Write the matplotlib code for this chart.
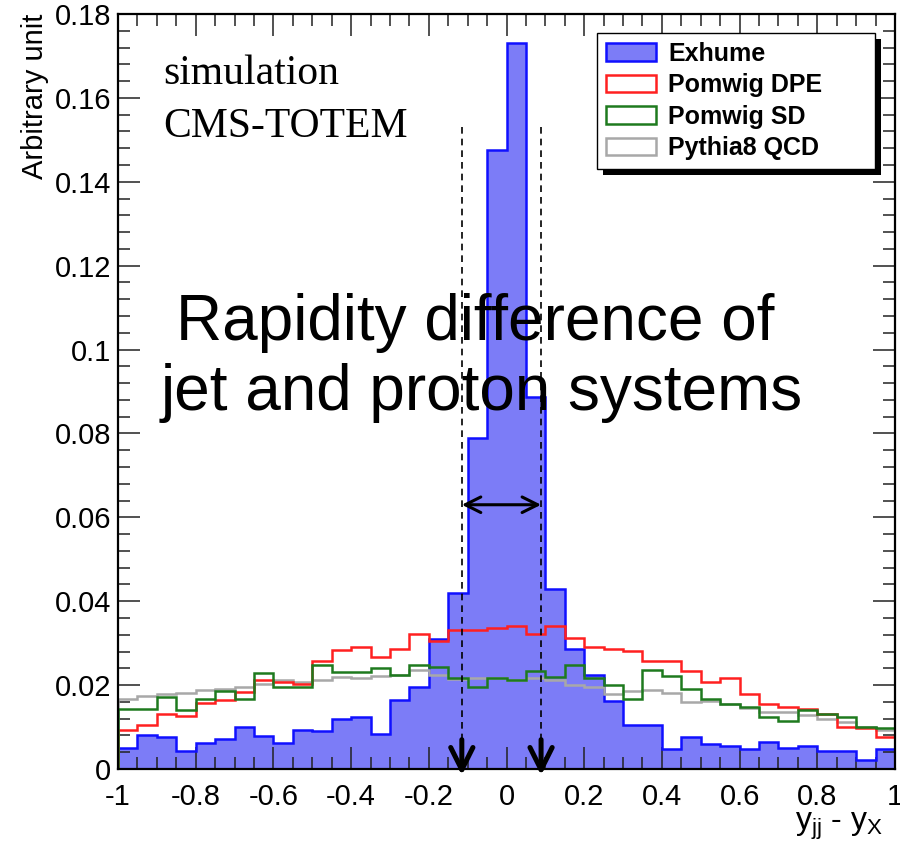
import numpy as np
import matplotlib
matplotlib.use('Agg')
import matplotlib.pyplot as plt
from matplotlib.patches import Patch, Rectangle
from matplotlib.ticker import MultipleLocator, FuncFormatter

# 40 bins of width 0.05 between -1 and 1
bin_edges = np.linspace(-1, 1, 41)

exhume = [0.0050, 0.0081, 0.0077, 0.0042, 0.0062, 0.0072, 0.0100, 0.0078, 0.0063, 0.0094,
          0.0090, 0.0119, 0.0123, 0.0084, 0.0165, 0.0196, 0.0310, 0.0420, 0.0790, 0.1475,
          0.1730, 0.0886, 0.0428, 0.0285, 0.0224, 0.0162, 0.0105, 0.0105, 0.0047, 0.0077,
          0.0060, 0.0055, 0.0048, 0.0064, 0.0051, 0.0054, 0.0043, 0.0043, 0.0021, 0.0047]

pomwig_dpe = [0.0094, 0.0105, 0.0130, 0.0126, 0.0158, 0.0165, 0.0184, 0.0211, 0.0208, 0.0202,
              0.0258, 0.0284, 0.0290, 0.0267, 0.0285, 0.0323, 0.0305, 0.0331, 0.0332, 0.0337,
              0.0342, 0.0323, 0.0340, 0.0313, 0.0290, 0.0287, 0.0282, 0.0257, 0.0257, 0.0233,
              0.0208, 0.0218, 0.0180, 0.0155, 0.0147, 0.0144, 0.0130, 0.0101, 0.0098, 0.0077]

pomwig_sd = [0.0142, 0.0142, 0.0172, 0.0141, 0.0166, 0.0186, 0.0167, 0.0228, 0.0195, 0.0195,
             0.0248, 0.0232, 0.0232, 0.0240, 0.0224, 0.0248, 0.0242, 0.0216, 0.0195, 0.0218,
             0.0213, 0.0233, 0.0220, 0.0248, 0.0218, 0.0201, 0.0168, 0.0237, 0.0222, 0.0191,
             0.0168, 0.0156, 0.0149, 0.0123, 0.0114, 0.0141, 0.0132, 0.0125, 0.0100, 0.0098]

pythia8_qcd = [0.0167, 0.0174, 0.0179, 0.0182, 0.0188, 0.0190, 0.0196, 0.0202, 0.0212, 0.0208,
               0.0213, 0.0220, 0.0216, 0.0222, 0.0225, 0.0235, 0.0225, 0.0215, 0.0216, 0.0217,
               0.0211, 0.0217, 0.0213, 0.0200, 0.0196, 0.0178, 0.0185, 0.0189, 0.0182, 0.0159,
               0.0162, 0.0155, 0.0146, 0.0136, 0.0135, 0.0128, 0.0119, 0.0111, 0.0100, 0.0093]

labels = ['Exhume', 'Pomwig DPE', 'Pomwig SD', 'Pythia8 QCD']

# window marked by the dashed lines
window_lo, window_hi = -0.115, 0.089
window_top = 0.153
arrow_level = 0.063

plt.rcParams['font.family'] = ['Liberation Sans', 'DejaVu Sans']
plt.rcParams['mathtext.default'] = 'regular'

fig = plt.figure(figsize=(9, 8.42), dpi=100)
ax = fig.add_axes([118/900, 1 - 769/842, 777/900, 755/842])

ax.stairs(exhume, bin_edges, fill=True, color='#7c7cf7', zorder=1)
ax.stairs(exhume, bin_edges, color='#1010ff', lw=1.8, zorder=2)
ax.stairs(pythia8_qcd, bin_edges, color='#a8a8a8', lw=1.8, zorder=3)
ax.stairs(pomwig_dpe, bin_edges, color='#ff2020', lw=1.8, zorder=3)
ax.stairs(pomwig_sd, bin_edges, color='#1e7a1e', lw=1.8, zorder=4)

ax.set_xlim(-1, 1)
ax.set_ylim(0, 0.18)

ax.xaxis.set_major_locator(MultipleLocator(0.2))
ax.xaxis.set_minor_locator(MultipleLocator(0.05))
ax.yaxis.set_major_locator(MultipleLocator(0.02))
ax.yaxis.set_minor_locator(MultipleLocator(0.004))
fmt = FuncFormatter(lambda v, p: '%g' % round(v, 3))
ax.xaxis.set_major_formatter(fmt)
ax.yaxis.set_major_formatter(fmt)
ax.tick_params(which='both', direction='in', top=True, right=True, color='#222222', width=1.1)
ax.tick_params(which='major', length=15.5, labelsize=21)
ax.tick_params(axis='x', which='major', pad=10)
ax.tick_params(axis='y', which='major', pad=5)
ax.tick_params(which='minor', length=8.5)
for s in ax.spines.values():
    s.set_linewidth(1.6)
    s.set_zorder(10)

ax.set_ylabel('Arbitrary unit', fontsize=21, loc='top', labelpad=4)
ax.set_xlabel(r'$y_{jj}$ - $y_{X}$', fontsize=23, loc='right', labelpad=0)
ax.xaxis.label.set_x(0.985)

# dashed window lines with arrow heads at the bottom
for xv in (window_lo, window_hi):
    ax.plot([xv, xv], [window_top, 0.004], ls=(0, (4, 3)), color='black', lw=1.2, zorder=6)
    ax.annotate('', xy=(xv, -0.0015), xytext=(xv, 0.007),
                arrowprops=dict(arrowstyle='->', color='black', lw=3.6, mutation_scale=40,
                                shrinkA=0, shrinkB=0),
                annotation_clip=False, zorder=7)
ax.annotate('', xy=(window_lo, arrow_level), xytext=(window_hi, arrow_level),
            arrowprops=dict(arrowstyle='<->', color='black', lw=2.2, mutation_scale=28,
                            shrinkA=0, shrinkB=0), zorder=7)

fig.text(163/900, 1 - 84/842, 'simulation', family='Liberation Serif', fontsize=30, va='baseline')
fig.text(163/900, 1 - 137/842, 'CMS-TOTEM', family='Liberation Serif', fontsize=30, va='baseline')

fig.text(475/900, 1 - 340/842, 'Rapidity difference of', fontsize=46, ha='center', va='baseline', zorder=20)
fig.text(482/900, 1 - 410/842, 'jet and proton systems', fontsize=46, ha='center', va='baseline', zorder=20)

handles = [Patch(facecolor='#7c7cf7', edgecolor='#1010ff', lw=1.8),
           Patch(facecolor='white', edgecolor='#ff2020', lw=1.8),
           Patch(facecolor='white', edgecolor='#1e7a1e', lw=1.8),
           Patch(facecolor='white', edgecolor='#a8a8a8', lw=1.8)]
leg = ax.legend(handles, labels, loc='upper left',
                bbox_to_anchor=(597/900, 1 - 165/842, 278/900, 132/842), mode='expand',
                bbox_transform=fig.transFigure, borderaxespad=0, fancybox=False,
                framealpha=1, edgecolor='black', prop={'weight': 'bold', 'size': 18},
                handlelength=2.0, handleheight=0.7, handletextpad=0.5,
                labelspacing=0.3, borderpad=0.35)
leg.get_frame().set_linewidth(1.0)
leg.set_zorder(12)

# black drop shadow behind the legend box
fig.canvas.draw()
bb = leg.get_window_extent().transformed(fig.transFigure.inverted())
dx, dy = 6/900, 6/842
shadow = Rectangle((bb.x0 + dx, bb.y0 - dy), bb.width, bb.height,
                   transform=fig.transFigure, facecolor='black', edgecolor='none',
                   zorder=11, clip_on=False)
ax.add_artist(shadow)

# keep the last x tick label ("1") inside the canvas
ax.get_xticklabels()[-1].set_horizontalalignment('right')

fig.savefig('out.png', dpi=100)
